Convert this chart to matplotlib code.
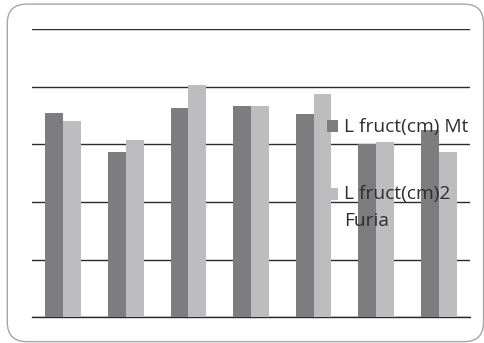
import matplotlib.pyplot as plt
import numpy as np
from matplotlib.patches import FancyBboxPatch, Rectangle

# fruit length per sample, two varieties
series_names = ['L fruct(cm) Mt', 'L fruct(cm)2\nFuria']
mt = [7.10, 5.75, 7.28, 7.35, 7.07, 6.00, 6.49]
furia = [6.83, 6.15, 8.07, 7.35, 7.74, 6.10, 5.75]
colors = ['#7d7d80', '#bdbdbf']

fig = plt.figure(figsize=(4.85, 3.43), dpi=100)
fig.patch.set_facecolor('white')

# rounded frame around the chart
frame = FancyBboxPatch((0.015, 0.004), 0.982, 0.984, boxstyle='round,pad=0,rounding_size=0.04',
                       transform=fig.transFigure, facecolor='none', edgecolor='#a6a6a6',
                       linewidth=1.0, mutation_aspect=485 / 343)
fig.patches.append(frame)

ax = fig.add_axes([0.066, 0.0749, 0.903, 0.8397])
x = np.arange(len(mt))
w = 0.2857
ax.bar(x - w / 2, mt, width=w, color=colors[0], zorder=2)
ax.bar(x + w / 2, furia, width=w, color=colors[1], zorder=2)

ax.set_xlim(-0.5, len(mt) - 0.5)
ax.set_ylim(0, 10)
ax.set_yticks(np.arange(0, 11, 2))
ax.yaxis.grid(True, color='#2b2b2b', linewidth=1.0, zorder=1)
ax.axhline(0, color='#2b2b2b', linewidth=1.0, clip_on=False, zorder=1)
ax.set_axisbelow(True)
ax.tick_params(left=False, bottom=False, labelleft=False, labelbottom=False)
for s in ax.spines.values():
    s.set_visible(False)

# legend drawn over the bars
font = dict(family='Open Sans', fontsize=13.8, color='#2e2e2e')
marker_y = [0.633, 0.4344]
text_y = [0.6143, 0.4207]
line_step = 0.0796
for name, c, my, ty in zip(series_names, colors, marker_y, text_y):
    fig.patches.append(Rectangle((0.674, my - 0.0175), 0.0235, 0.035, transform=fig.transFigure,
                                 facecolor=c, edgecolor='none', zorder=5))
    for i, line in enumerate(name.split('\n')):
        fig.text(0.709, ty - i * line_step, line, va='baseline', ha='left', zorder=6, **font)

fig.savefig('out.png', dpi=100)
